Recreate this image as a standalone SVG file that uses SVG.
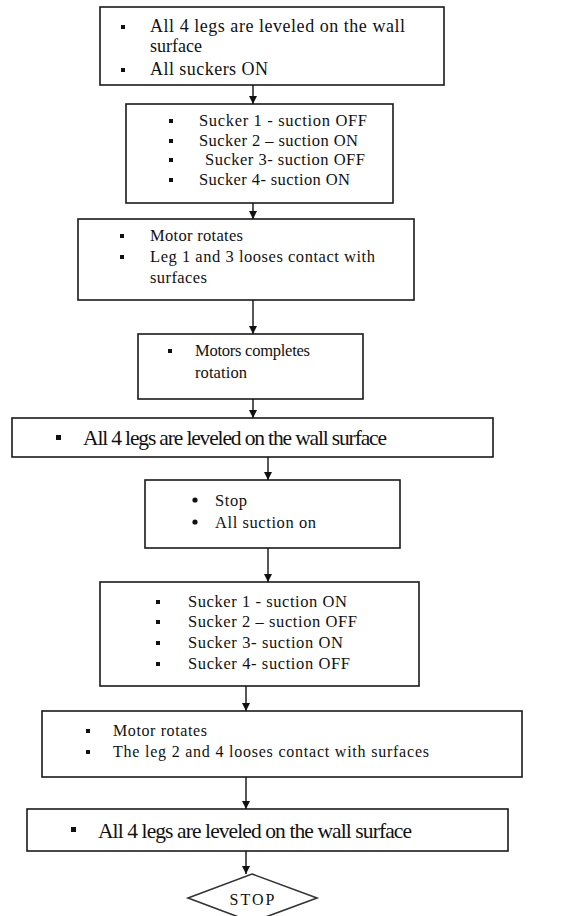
<svg xmlns="http://www.w3.org/2000/svg" width="572" height="916" viewBox="0 0 572 916">
<style>
.box{fill:#fff;stroke:#1a1a1a;stroke-width:1.6}
.t{font-family:"Liberation Serif","Times New Roman",serif;font-size:16.5px;fill:#111}
.t18{font-size:18px}
.t16{font-size:16px}
.big{font-size:21.5px}
.sq{fill:#111}
.conn line{stroke:#111;stroke-width:1.4;marker-end:url(#ah)}
</style>
<defs>
<marker id="ah" markerUnits="userSpaceOnUse" viewBox="0 0 8 8" refX="8" refY="4" markerWidth="8" markerHeight="8" orient="auto">
<path d="M0,0 L8,4 L0,8 z" fill="#111"/>
</marker>
</defs>
<rect width="572" height="916" fill="#fff"/>

<g id="n1">
<rect class="box" x="100" y="7" width="344" height="78"/>
<rect class="sq" x="121" y="25" width="4" height="4"/>
<text class="t t18" x="150" y="32" textLength="255" lengthAdjust="spacing">All 4 legs are leveled on the wall</text>
<text class="t t18" x="150" y="52">surface</text>
<rect class="sq" x="121" y="68" width="4" height="4"/>
<text class="t t18" x="150" y="75" textLength="118" lengthAdjust="spacing">All suckers ON</text>
</g>

<g id="n2">
<rect class="box" x="126" y="104" width="267" height="99"/>
<rect class="sq" x="169" y="119" width="4" height="4"/>
<text class="t" x="199" y="126" textLength="168" lengthAdjust="spacing">Sucker 1 - suction OFF</text>
<rect class="sq" x="169" y="139" width="4" height="4"/>
<text class="t" x="199" y="146" textLength="159" lengthAdjust="spacing">Sucker 2 – suction ON</text>
<rect class="sq" x="169" y="158" width="4" height="4"/>
<text class="t" x="205" y="165" textLength="160" lengthAdjust="spacing">Sucker 3- suction OFF</text>
<rect class="sq" x="169" y="178" width="4" height="4"/>
<text class="t" x="199" y="185" textLength="151" lengthAdjust="spacing">Sucker 4- suction ON</text>
</g>

<g id="n3">
<rect class="box" x="78" y="219" width="336" height="81"/>
<rect class="sq" x="120" y="234" width="4" height="4"/>
<text class="t" x="150" y="241" textLength="93" lengthAdjust="spacing">Motor rotates</text>
<rect class="sq" x="120" y="255" width="4" height="4"/>
<text class="t" x="150" y="262" textLength="225" lengthAdjust="spacing">Leg 1 and 3 looses contact with</text>
<text class="t" x="150" y="283" textLength="57" lengthAdjust="spacing">surfaces</text>
</g>

<g id="n4">
<rect class="box" x="138" y="334" width="225" height="65"/>
<rect class="sq" x="168" y="349" width="4" height="4"/>
<text class="t" x="195" y="356" textLength="115" lengthAdjust="spacing">Motors completes</text>
<text class="t" x="195" y="378" textLength="52" lengthAdjust="spacing">rotation</text>
</g>

<g id="n5">
<rect class="box" x="12" y="418" width="481" height="39"/>
<rect class="sq" x="56" y="435" width="5" height="5"/>
<text class="t big" x="83" y="445" textLength="304" lengthAdjust="spacing">All 4 legs are leveled on the wall surface</text>
</g>

<g id="n6">
<rect class="box" x="145" y="480" width="255" height="68"/>
<circle class="sq" cx="195" cy="500" r="2.6"/>
<text class="t" x="215" y="506" textLength="32" lengthAdjust="spacing">Stop</text>
<circle class="sq" cx="195" cy="522" r="2.6"/>
<text class="t" x="215" y="528" textLength="101" lengthAdjust="spacing">All suction on</text>
</g>

<g id="n7">
<rect class="box" x="100" y="582" width="319" height="104"/>
<rect class="sq" x="156" y="600" width="4" height="4"/>
<text class="t" x="188" y="607" textLength="159" lengthAdjust="spacing">Sucker 1 - suction ON</text>
<rect class="sq" x="156" y="620" width="4" height="4"/>
<text class="t" x="188" y="627" textLength="169" lengthAdjust="spacing">Sucker 2 – suction OFF</text>
<rect class="sq" x="156" y="641" width="4" height="4"/>
<text class="t" x="188" y="648" textLength="155" lengthAdjust="spacing">Sucker 3- suction ON</text>
<rect class="sq" x="156" y="662" width="4" height="4"/>
<text class="t" x="188" y="669" textLength="162" lengthAdjust="spacing">Sucker 4- suction OFF</text>
</g>

<g id="n8">
<rect class="box" x="42" y="711" width="480" height="66"/>
<rect class="sq" x="86" y="729" width="4" height="4"/>
<text class="t t16" x="113" y="736" textLength="94" lengthAdjust="spacing">Motor rotates</text>
<rect class="sq" x="86" y="750" width="4" height="4"/>
<text class="t t16" x="113" y="757" textLength="316" lengthAdjust="spacing">The leg 2 and 4 looses contact with surfaces</text>
</g>

<g id="n9">
<rect class="box" x="27" y="809" width="481" height="42"/>
<rect class="sq" x="71" y="827" width="5" height="5"/>
<text class="t big" x="98" y="838" textLength="314" lengthAdjust="spacing">All 4 legs are leveled on the wall surface</text>
</g>

<g id="n10">
<polygon points="252,874 317,898 252,922 188,898" fill="#fff" stroke="#333" stroke-width="1.6"/>
<text class="t" x="253" y="905" text-anchor="middle" style="font-size:16px;letter-spacing:2px">STOP</text>
</g>

<g id="connectors" class="conn">
<line x1="253" y1="85" x2="253" y2="104"/>
<line x1="253" y1="203" x2="253" y2="219"/>
<line x1="253" y1="300" x2="253" y2="334"/>
<line x1="253" y1="399" x2="253" y2="418"/>
<line x1="268" y1="457" x2="268" y2="480"/>
<line x1="268" y1="548" x2="268" y2="582"/>
<line x1="246" y1="686" x2="246" y2="711"/>
<line x1="246" y1="777" x2="246" y2="809"/>
<line x1="246" y1="851" x2="246" y2="874"/>
</g>
</svg>
